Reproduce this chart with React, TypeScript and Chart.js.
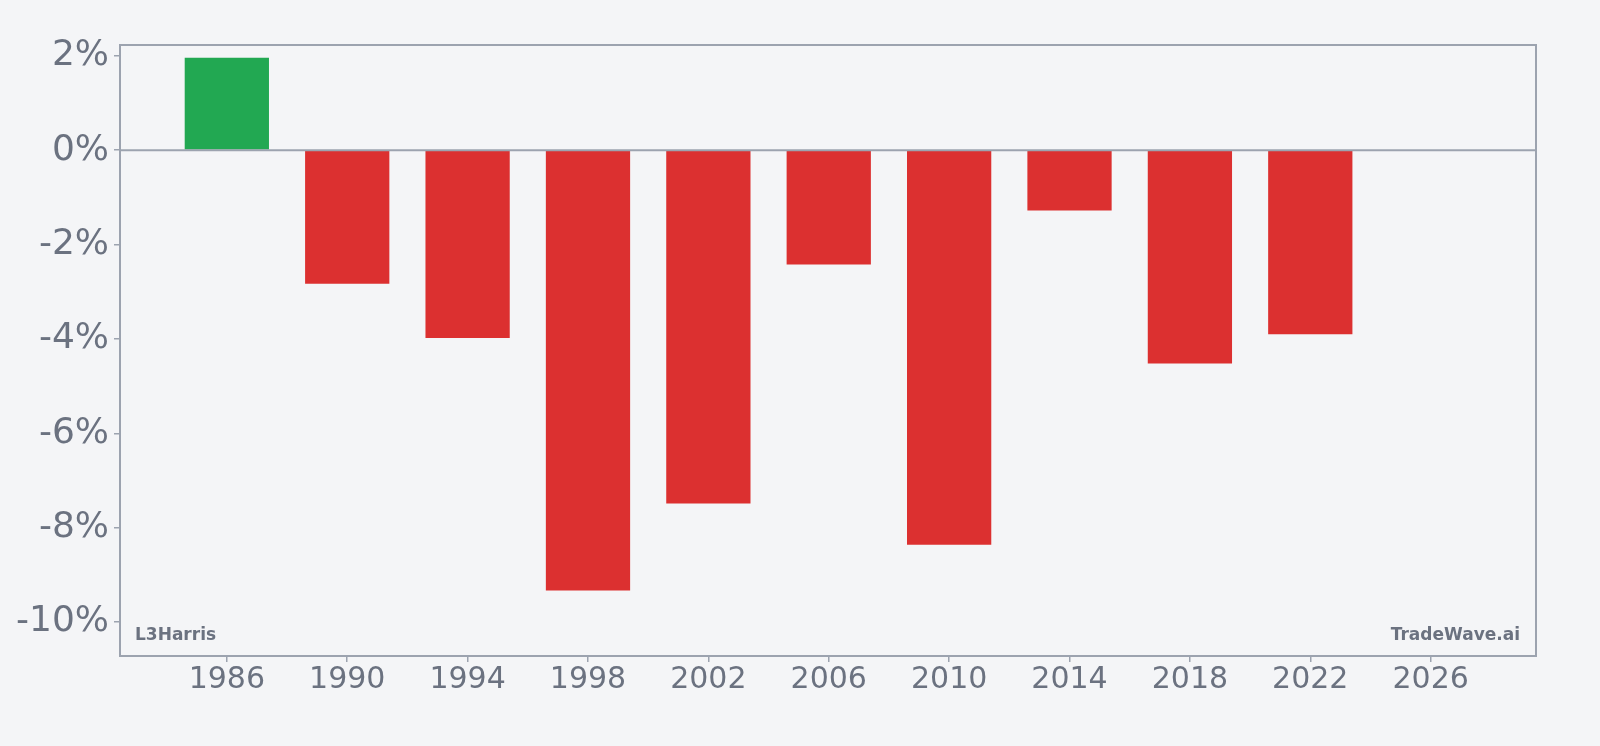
import React, { useEffect, useRef } from 'react';
import Chart from 'chart.js/auto';

// Annual values (percent)
const years = [1986, 1990, 1994, 1998, 2002, 2006, 2010, 2014, 2018, 2022];
const changes = [1.96, -2.83, -3.98, -9.33, -7.49, -2.42, -8.36, -1.28, -4.52, -3.9];
const xTicks = [1986, 1990, 1994, 1998, 2002, 2006, 2010, 2014, 2018, 2022, 2026];
const yTicks = [-10, -8, -6, -4, -2, 0, 2];

const TEXT = '#6b7280';
const AXIS = '#9ca3af';
const BG = '#f4f5f7';
const GREEN = '#22a852';
const RED = '#dc3030';
const FONT = "'DejaVu Sans', sans-serif";

const framePlugin = {
  id: 'frame',
  beforeDraw(chart: any) {
    const { ctx, width, height } = chart;
    ctx.save();
    ctx.fillStyle = BG;
    ctx.fillRect(0, 0, width, height);
    ctx.restore();
  },
  afterDraw(chart: any) {
    const { ctx, chartArea } = chart;
    const { left, top, right, bottom } = chartArea;
    const y0 = chart.scales.y.getPixelForValue(0);
    ctx.save();
    ctx.strokeStyle = AXIS;
    ctx.lineWidth = 2;
    ctx.beginPath();
    ctx.moveTo(left, y0);
    ctx.lineTo(right, y0);
    ctx.stroke();
    ctx.strokeRect(left, top, right - left, bottom - top);
    ctx.fillStyle = TEXT;
    ctx.font = `bold 17px ${FONT}`;
    ctx.textBaseline = 'alphabetic';
    ctx.textAlign = 'left';
    ctx.fillText('L3Harris', left + 15, bottom - 16);
    ctx.textAlign = 'right';
    ctx.fillText('TradeWave.ai', right - 16, bottom - 16);
    ctx.restore();
  },
};

const App: React.FC = () => {
  const canvasRef = useRef<HTMLCanvasElement>(null);
  const chartInstance = useRef<Chart | null>(null);

  useEffect(() => {
    document.body.style.margin = '0';
    document.body.style.background = BG;
    if (!canvasRef.current) return;
    if (chartInstance.current) chartInstance.current.destroy();

    chartInstance.current = new Chart(canvasRef.current, {
      type: 'bar',
      data: {
        datasets: [
          {
            data: years.map((yr, i) => ({ x: yr, y: changes[i] })),
            backgroundColor: changes.map((v) => (v >= 0 ? GREEN : RED)),
            borderWidth: 0,
            barPercentage: 0.875,
            categoryPercentage: 0.8,
          },
        ],
      },
      options: {
        animation: false,
        responsive: false,
        maintainAspectRatio: false,
        devicePixelRatio: 1,
        layout: { padding: { top: 45, right: 64, left: 0, bottom: 0 } },
        plugins: {
          legend: { display: false },
          tooltip: { enabled: false },
        },
        scales: {
          x: {
            type: 'linear',
            min: 1982.45,
            max: 2029.5,
            offset: false,
            afterBuildTicks: (axis: any) => {
              axis.ticks = xTicks.map((v) => ({ value: v }));
            },
            afterFit: (axis: any) => {
              axis.height = 90;
            },
            grid: {
              offset: false,
              drawOnChartArea: false,
              tickLength: 6,
              color: AXIS,
              lineWidth: 1.5,
            },
            border: { display: false },
            ticks: {
              color: TEXT,
              font: { family: FONT, size: 30 },
              padding: 0,
              maxRotation: 0,
              autoSkip: false,
              callback: (v: any) => String(v),
            },
          },
          y: {
            min: -10.72,
            max: 2.23,
            afterBuildTicks: (axis: any) => {
              axis.ticks = yTicks.map((v) => ({ value: v }));
            },
            afterFit: (axis: any) => {
              axis.width = 120;
            },
            grid: {
              drawOnChartArea: false,
              tickLength: 6,
              color: AXIS,
              lineWidth: 1.5,
            },
            border: { display: false },
            ticks: {
              color: TEXT,
              font: { family: FONT, size: 36 },
              padding: 5,
              autoSkip: false,
              callback: (v: any) => `${v}%`,
            },
          },
        },
      },
      plugins: [framePlugin],
    });

    return () => {
      if (chartInstance.current) {
        chartInstance.current.destroy();
        chartInstance.current = null;
      }
    };
  }, []);

  return (
    <div style={{ width: '1600px', height: '746px', background: BG }}>
      <canvas ref={canvasRef} width={1600} height={746} />
    </div>
  );
};

export default App;
